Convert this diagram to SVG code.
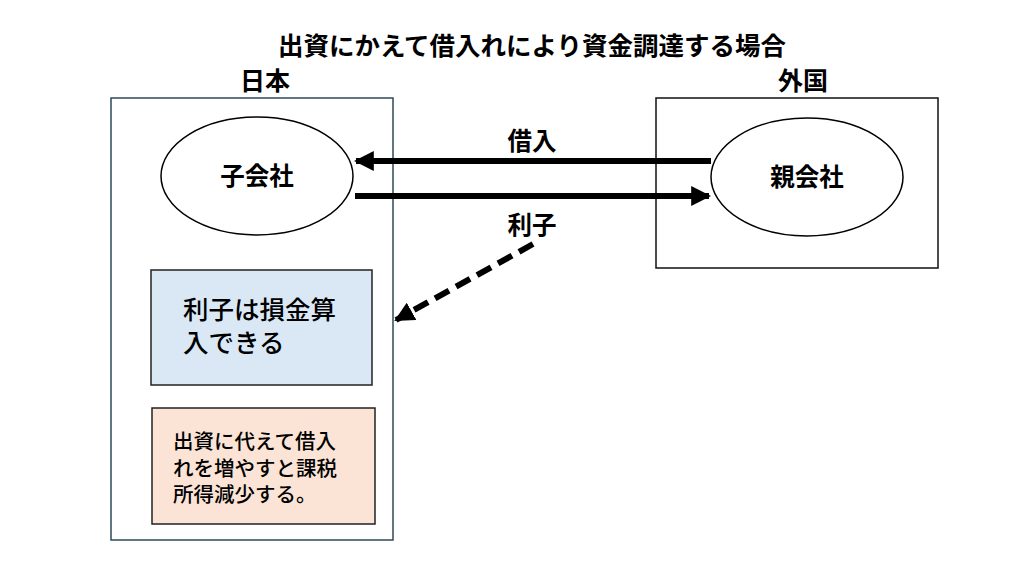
<svg xmlns="http://www.w3.org/2000/svg" width="1024" height="576" viewBox="0 0 1024 576">
<defs>
<style>
text{font-family:"Liberation Sans","Noto Sans CJK JP",sans-serif;fill:#000;font-weight:bold}
.c{text-anchor:middle}
.box{fill:#fff;stroke-width:1.5}
.ell{fill:#fff;stroke:#000;stroke-width:1.5}
.arr{stroke:#000;stroke-width:6;fill:none}
.note{stroke:#222;stroke-width:1.5}
.nt{font-weight:500}
</style>
<marker id="ah" viewBox="0 0 10 10" refX="9" refY="5" markerWidth="3.3" markerHeight="3.3" orient="auto" markerUnits="strokeWidth">
<path d="M0,0 L10,5 L0,10 Z" fill="#000"/>
</marker>
</defs>
<rect width="1024" height="576" fill="#fff"/>
<text class="c" x="532" y="55" font-size="25.5">出資にかえて借入れにより資金調達する場合</text>
<g id="japan">
<rect class="box" x="111" y="98" width="282" height="442" stroke="#2e4a5a"/>
<text class="c" x="265" y="90" font-size="25">日本</text>
</g>
<g id="foreign">
<rect class="box" x="656" y="98" width="282" height="170" stroke="#111"/>
<text class="c" x="803" y="90" font-size="25">外国</text>
</g>
<g id="child">
<ellipse class="ell" cx="257" cy="176" rx="96" ry="59"/>
<text class="c" x="257" y="185" font-size="24.5">子会社</text>
</g>
<g id="parent">
<ellipse class="ell" cx="807" cy="177" rx="96" ry="59"/>
<text class="c" x="807" y="186" font-size="24.5">親会社</text>
</g>
<g id="note1">
<rect class="note" x="151" y="270" width="221" height="115" fill="#dae8f6"/>
<text x="183" y="319" font-size="25.5" class="nt">利子は損金算</text>
<text x="183" y="352" font-size="25.5" class="nt">入できる</text>
</g>
<g id="note2">
<rect class="note" x="152" y="408" width="223" height="116" fill="#fbe4d6"/>
<text x="173" y="449" font-size="20.5" class="nt">出資に代えて借入</text>
<text x="173" y="476" font-size="20.5" class="nt">れを増やすと課税</text>
<text x="173" y="502" font-size="20.5" class="nt">所得減少する。</text>
</g>
<g id="connectors">
<line class="arr" x1="711" y1="161" x2="356" y2="161" marker-end="url(#ah)"/>
<line class="arr" x1="355" y1="196" x2="709" y2="196" marker-end="url(#ah)"/>
<line class="arr" x1="533" y1="244" x2="396" y2="320" stroke-dasharray="16,8" marker-end="url(#ah)"/>
<text class="c" x="532" y="150" font-size="24.5">借入</text>
<text class="c" x="532" y="234" font-size="24.5">利子</text>
</g>
</svg>
